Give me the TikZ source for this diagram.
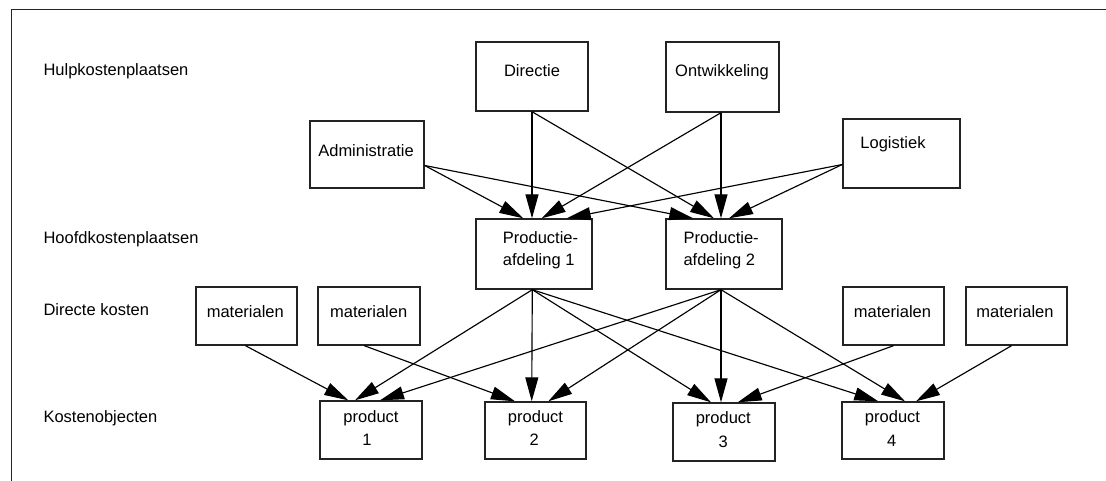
\documentclass[tikz,border=0pt]{standalone}
\usepackage{fontspec}
\setmainfont{Liberation Sans}
\usetikzlibrary{arrows.meta}
\newcommand\lblfont{\fontsize{16.5}{20}\selectfont}
\definecolor{boxline}{RGB}{35,35,35}
\tikzset{
  box/.style={draw=boxline, line width=1.4pt, fill=white, inner sep=0pt},
  lbl/.style={font=\lblfont, anchor=base, inner sep=0pt},
  lblw/.style={font=\lblfont, anchor=base west, inner sep=0pt},
  arr/.style={draw=black, line width=1.15pt, -{Triangle[length=24pt,width=13pt]}},
}
\begin{document}
\begin{tikzpicture}[x=1pt,y=-1pt]
\useasboundingbox (0,0) rectangle (1106,481);
% outer frame
\draw[boxline, line width=1.4pt] (11.5,481) -- (11.5,9.7) -- (1106,9.7);

% row captions
\node[lblw] (capA) at (43.3,76) {Hulpkostenplaatsen};
\node[lblw] (capB) at (43.3,243.5) {Hoofdkostenplaatsen};
\node[lblw] (capC) at (43.3,315.5) {Directe kosten};
\node[lblw] (capD) at (43.3,422) {Kostenobjecten};

% support cost centres
\node[box, minimum width=112pt, minimum height=69pt] (dir) at (532,76.5) {};
\node[lbl] (dirT) at (532,76.5) {Directie};
\node[box, minimum width=113pt, minimum height=70pt] (ont) at (722.5,77) {};
\node[lbl] (ontT) at (722,77) {Ontwikkeling};
\node[box, minimum width=114pt, minimum height=67pt] (adm) at (367,154.5) {};
\node[lbl] (admT) at (366,157) {Administratie};
\node[box, minimum width=117pt, minimum height=69pt] (log) at (901.5,153.5) {};
\node[lbl] (logT) at (893,148.8) {Logistiek};

% main cost centres
\node[box, minimum width=116pt, minimum height=70pt] (pa) at (534,254) {};
\node[lblw] (paT1) at (502.7,243.5) {Productie-};
\node[lblw] (paT2) at (502.7,265.5) {afdeling 1};
\node[box, minimum width=116pt, minimum height=70pt] (pb) at (724,254) {};
\node[lblw] (pbT1) at (683.3,243.5) {Productie-};
\node[lblw] (pbT2) at (683.3,265.5) {afdeling 2};

% direct costs
\node[box, minimum width=101pt, minimum height=58pt] (ma) at (246.5,316) {};
\node[lbl] (maT) at (245.3,317.5) {materialen};
\node[box, minimum width=102pt, minimum height=58pt] (mb) at (369,316) {};
\node[lbl] (mbT) at (368.7,317.5) {materialen};
\node[box, minimum width=101pt, minimum height=58pt] (mc) at (893.5,316) {};
\node[lbl] (mcT) at (892.5,317.5) {materialen};
\node[box, minimum width=101pt, minimum height=58pt] (md) at (1016.5,316) {};
\node[lbl] (mdT) at (1015,317.5) {materialen};

% cost objects
\node[box, minimum width=102pt, minimum height=58pt] (ka) at (371,430) {};
\node[lbl] (kaT1) at (371,422.5) {product};
\node[lbl] (kaT2) at (367,445.5) {1};
\node[box, minimum width=101pt, minimum height=57pt] (kb) at (535.5,430.5) {};
\node[lbl] (kbT1) at (535.5,422.5) {product};
\node[lbl] (kbT2) at (534.3,445.5) {2};
\node[box, minimum width=102pt, minimum height=58pt] (kc) at (724,432) {};
\node[lbl] (kcT1) at (723.3,423.8) {product};
\node[lbl] (kcT2) at (723.3,447.8) {3};
\node[box, minimum width=102pt, minimum height=57pt] (kd) at (893,430.5) {};
\node[lbl] (kdT1) at (892.5,422.8) {product};
\node[lbl] (kdT2) at (891.7,446.5) {4};

% allocations to the main cost centres
\draw[arr] ([yshift=-11pt]adm.east) -- ([xshift=-10.7pt]pa.north);
\draw[arr] (dir.south) -- ([xshift=-2pt]pa.north);
\draw[arr] ([xshift=-1.5pt]ont.south) -- ([xshift=7.7pt]pa.north);
\draw[arr] ([yshift=-11pt]log.west) -- ([xshift=32.7pt]pa.north);
\draw[arr] ([yshift=-11pt]adm.east) -- ([xshift=-30.7pt]pb.north);
\draw[arr] (dir.south) -- ([xshift=-10pt]pb.north);
\draw[arr] ([xshift=-1.5pt]ont.south) -- ([xshift=-3pt]pb.north);
\draw[arr] ([yshift=-11pt]log.west) -- ([xshift=5pt]pb.north);

% allocations to the cost objects
\draw[arr] ([xshift=-1pt]ma.south) -- ([xshift=-22.7pt]ka.north);
\draw[arr] ([xshift=-1.7pt]pa.south) -- ([xshift=-16pt]ka.north);
\draw[arr] ([xshift=-3pt]pb.south) -- ([xshift=9pt]ka.north);
\draw[arr] ([xshift=-4.7pt]mb.south) -- ([xshift=-20.5pt]kb.north);
\draw[arr] ([xshift=-1.7pt]pa.south) -- ([xshift=-3.8pt]kb.north);
\draw[arr] ([xshift=-3pt]pb.south) -- ([xshift=12.8pt]kb.north);
\draw[arr] ([xshift=-1.7pt]pa.south) -- ([xshift=-13pt]kc.north);
\draw[arr] ([xshift=-3pt]pb.south) -- ([xshift=-3pt]kc.north);
\draw[arr] (mc.south) -- ([xshift=13.7pt]kc.north);
\draw[arr] ([xshift=-1.7pt]pa.south) -- ([xshift=-14.7pt]kd.north);
\draw[arr] ([xshift=-3pt]pb.south) -- ([xshift=12pt]kd.north);
\draw[arr] ([xshift=-5pt]md.south) -- ([xshift=23pt]kd.north);
\end{tikzpicture}
\end{document}
